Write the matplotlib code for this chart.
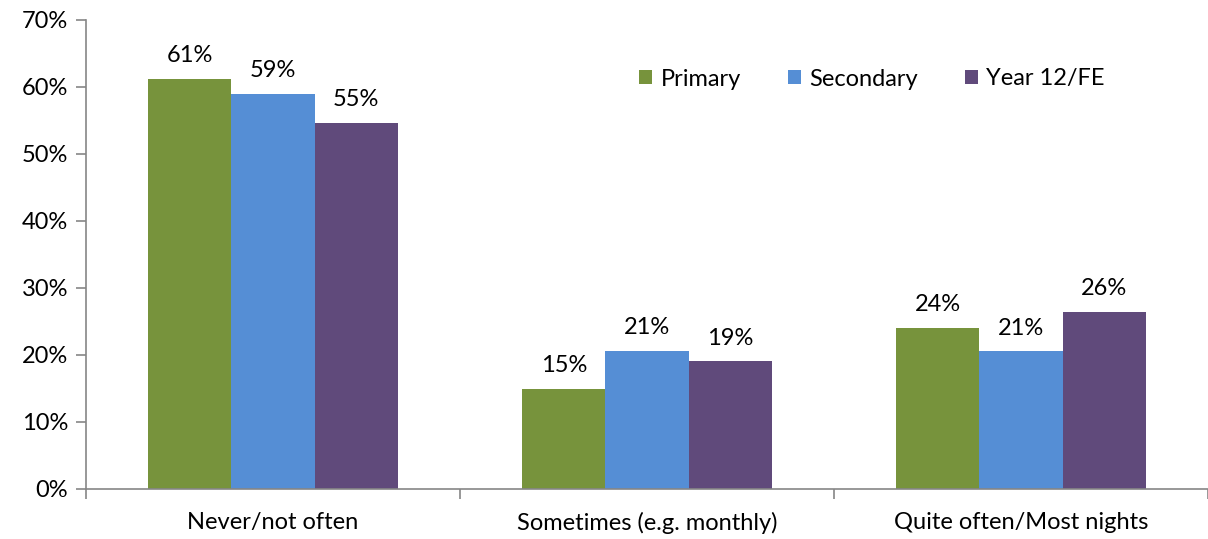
import matplotlib
matplotlib.use("Agg")
import matplotlib.pyplot as plt
import numpy as np

categories = ["Never/not often", "Sometimes (e.g. monthly)", "Quite often/Most nights"]
series_names = ["Primary", "Secondary", "Year 12/FE"]
primary = [61.1, 14.9, 24.0]
secondary = [58.9, 20.6, 20.5]
year12 = [54.6, 19.0, 26.4]
primary_labels = ["61%", "15%", "24%"]
secondary_labels = ["59%", "21%", "21%"]
year12_labels = ["55%", "19%", "26%"]
colors = ["#77933C", "#558ED5", "#604A7B"]
yticks = [0, 10, 20, 30, 40, 50, 60, 70]

plt.rcParams['font.family'] = ['Lato', 'DejaVu Sans']
FS = 17
fig = plt.figure(figsize=(12.08, 5.39), dpi=100)
ax = fig.add_axes([86/1208, 1-488.7/539, 1-86/1208, (488.7-19.5)/539])

x = np.arange(len(categories))
w = 0.222
for i, (vals, labs, name, c) in enumerate(zip([primary, secondary, year12],
                                               [primary_labels, secondary_labels, year12_labels],
                                               series_names, colors)):
    ax.bar(x + (i-1)*w, vals, width=w, color=c, label=name, edgecolor='none')
    for xi, v, lab in zip(x + (i-1)*w, vals, labs):
        ax.text(xi, v + 1.9, lab, ha='center', va='bottom', fontsize=FS, color='#000000')

ax.set_xlim(-0.5, 2.5)
ax.set_ylim(0, 70)
ax.set_yticks(yticks)
ax.set_yticklabels([f"{t}%" for t in yticks], fontsize=FS)
ax.set_xticks(x)
ax.set_xticklabels(categories, fontsize=FS)
ax.tick_params(axis='x', which='major', length=0, pad=17)
ax.set_xticks([-0.5, 0.5, 1.5, 2.5], minor=True)
ax.tick_params(axis='x', which='minor', length=7, color='#868686', width=1.2, direction='out')
ax.tick_params(axis='y', length=7, color='#868686', width=1.2, direction='out', pad=6)
for s in ['top', 'right']:
    ax.spines[s].set_visible(False)
for s in ['left', 'bottom']:
    ax.spines[s].set_color('#868686')
    ax.spines[s].set_linewidth(1.2)

ax.legend(loc='center', bbox_to_anchor=(872/1208, 1-79/539), bbox_transform=fig.transFigure,
          ncol=3, frameon=False, fontsize=FS, handlelength=0.55, handleheight=0.55,
          handletextpad=0.35, columnspacing=2.0)

fig.savefig("out.png", dpi=100)
